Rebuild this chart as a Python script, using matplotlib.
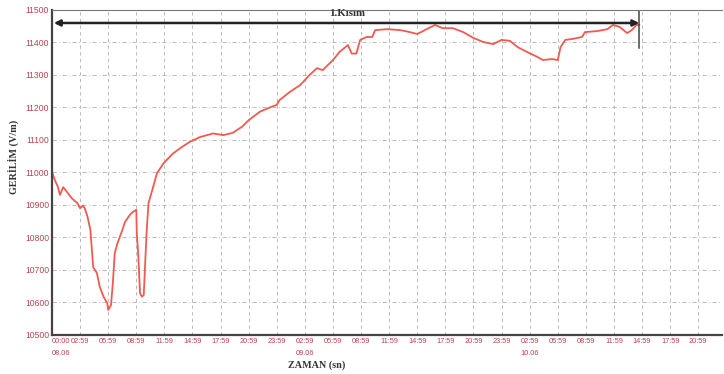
import matplotlib
matplotlib.use("Agg")
import matplotlib.pyplot as plt
from matplotlib.transforms import blended_transform_factory

# zaman (saat, 08.06 00:00'dan itibaren) ve gerilim (V/m)
saat = [0.0, 0.3, 0.64, 0.85, 1.2, 1.6, 2.1, 2.7, 3.0, 3.3, 3.5, 3.8, 4.1, 4.4,
        4.8, 5.1, 5.5, 5.9, 6.0, 6.3, 6.5, 6.7, 7.0, 7.4, 7.8, 8.3, 8.6, 9.0,
        9.05, 9.2, 9.4, 9.6, 9.8, 9.9, 10.1, 10.3, 10.7, 11.2, 11.9, 12.9,
        13.7, 14.7, 15.8, 17.2, 18.3, 19.3, 20.3, 21.0, 22.2, 23.5, 24.0,
        24.3, 25.4, 26.5, 27.5, 28.3, 28.9, 30.0, 30.7, 31.6, 32.0, 32.5,
        32.9, 33.6, 34.2, 34.5, 35.8, 37.2, 38.2, 39.0, 40.0, 40.9, 41.7,
        42.8, 43.9, 45.0, 46.0, 47.1, 48.0, 48.9, 49.7, 50.7, 51.8, 52.4,
        53.4, 54.0, 54.3, 54.8, 55.6, 56.6, 56.9, 58.2, 59.3, 59.9, 60.6,
        61.4, 61.9, 62.4, 62.7]
gerilim = [11002, 10977, 10955, 10931, 10955, 10940, 10921, 10906, 10890, 10898,
           10890, 10863, 10823, 10709, 10690, 10648, 10618, 10598, 10577, 10592,
           10660, 10752, 10783, 10814, 10848, 10869, 10878, 10885, 10814, 10752,
           10629, 10618, 10623, 10690, 10814, 10905, 10945, 10997, 11028, 11058,
           11075, 11094, 11109, 11120, 11115, 11122, 11141, 11161, 11187, 11203,
           11208, 11223, 11248, 11269, 11300, 11321, 11315, 11346, 11371, 11392,
           11366, 11366, 11408, 11417, 11417, 11438, 11441, 11438, 11432, 11426,
           11441, 11454, 11444, 11444, 11432, 11414, 11402, 11395, 11408, 11405,
           11386, 11371, 11356, 11346, 11349, 11346, 11386, 11408, 11411, 11417,
           11432, 11435, 11441, 11454, 11448, 11429, 11438, 11454, 11454]

x_etiket = ["00:00", "02:59", "05:59", "08:59", "11:59", "14:59", "17:59", "20:59",
            "23:59", "02:59", "05:59", "08:59", "11:59", "14:59", "17:59", "20:59",
            "23:59", "02:59", "05:59", "08:59", "11:59", "14:59", "17:59", "20:59"]
tarih = ["08.06", "09.06", "10.06"]
tarih_saat = [0, 27, 51]
y_tik = [10500, 10600, 10700, 10800, 10900, 11000, 11100, 11200, 11300, 11400, 11500]

kirmizi = "#b8444f"

fig = plt.figure(figsize=(7.24, 3.74), dpi=100)
ax = fig.add_axes([0.0718, 0.1043, 0.925, 0.869])

ax.plot(saat, gerilim, color="#f05a50", lw=1.3)

ax.set_xlim(0, 71.5)
ax.set_ylim(10500, 11500)
ax.set_xticks([3 * i for i in range(len(x_etiket))])
ax.set_xticklabels(x_etiket, fontsize=5.3, color=kirmizi, family="Liberation Sans")
ax.set_yticks(y_tik)
ax.set_yticklabels([str(v) for v in y_tik], fontsize=6.2, color=kirmizi,
                   family="Liberation Sans")
ax.get_xticklabels()[0].set_ha("left")
ax.tick_params(length=0, pad=2)

ax.xaxis.grid(True, color="#b0b0b0", ls=(0, (4, 4)), lw=0.6)
ax.yaxis.grid(True, color="#b0b0b0", ls=(0, (5, 3, 1, 3)), lw=0.6)

for s in ["left", "bottom"]:
    ax.spines[s].set_linewidth(1.6)
    ax.spines[s].set_color("#444444")
ax.spines["top"].set_color("#777777")
ax.spines["top"].set_linewidth(0.8)
ax.spines["right"].set_visible(False)

tr = blended_transform_factory(ax.transData, ax.transAxes)
for t, s in zip(tarih_saat, tarih):
    ax.text(t, -0.057, s, transform=tr, fontsize=5.3, color=kirmizi,
            ha="left" if t == 0 else "center", va="center", family="Liberation Sans")

# 1. kisim oku
ax.annotate("", xy=(0.2, 11460), xytext=(62.7, 11460),
            arrowprops=dict(arrowstyle="<|-|>", color="#222222", lw=1.8,
                            mutation_scale=9, shrinkA=0, shrinkB=0))
ax.plot([62.7, 62.7], [11383, 11500], color="#444444", lw=1.1)
ax.text(31.5, 11488, "1.Kısım", ha="center", va="center", fontsize=7.8,
        fontweight="bold", family="Liberation Serif", color="#333333")

fig.text(0.018, 0.58, "GERİLİM (V/m)", rotation=90, ha="center", va="center",
         fontsize=7.3, fontweight="bold", family="Liberation Serif", color="#333333")
fig.text(0.438, 0.024, "ZAMAN (sn)", ha="center", va="center",
         fontsize=7.3, fontweight="bold", family="Liberation Serif", color="#333333")

fig.savefig("out.png", dpi=100)
